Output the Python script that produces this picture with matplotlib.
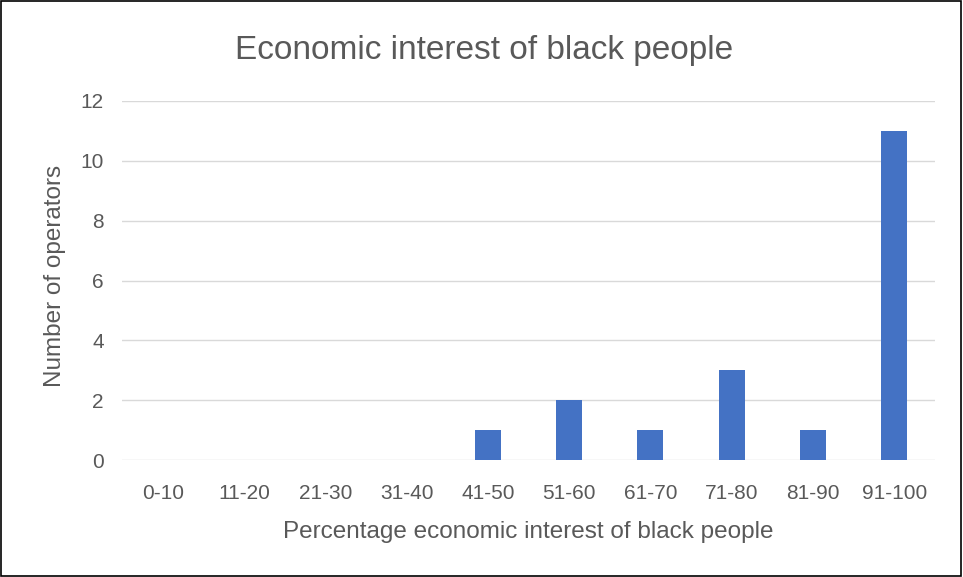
"""Recreate the Excel-style column chart of economic interest of black people."""

import matplotlib

matplotlib.use("Agg")
import matplotlib.pyplot as plt
from matplotlib.patches import Rectangle

CATEGORIES = ["0-10", "11-20", "21-30", "31-40", "41-50", "51-60", "61-70", "71-80", "81-90", "91-100"]
OPERATORS = [0, 0, 0, 0, 1, 2, 1, 3, 1, 11]
Y_TICKS = [0, 2, 4, 6, 8, 10, 12]

BAR_COLOR = "#4472C4"
GRID_COLOR = "#D9D9D9"
TEXT_COLOR = "#595959"

plt.rcParams["font.family"] = ["Liberation Sans", "DejaVu Sans"]

fig = plt.figure(figsize=(9.63, 5.77), dpi=100)
ax = fig.add_axes([122 / 963, 1 - 460 / 577, (935 - 122) / 963, (460 - 101) / 577])

positions = list(range(len(CATEGORIES)))
ax.bar(positions, OPERATORS, width=0.32, color=BAR_COLOR, zorder=3)

ax.set_xlim(-0.5, len(CATEGORIES) - 0.5)
ax.set_ylim(0, 12)
ax.set_yticks(Y_TICKS)
ax.set_xticks(positions)
ax.set_xticklabels(CATEGORIES)
ax.yaxis.grid(True, color=GRID_COLOR, linewidth=1.0, zorder=0)
ax.set_axisbelow(True)
for side in ("top", "right", "left", "bottom"):
    ax.spines[side].set_visible(False)
ax.tick_params(axis="both", length=0, labelsize=15, labelcolor=TEXT_COLOR)
ax.tick_params(axis="x", pad=17)
ax.tick_params(axis="y", pad=13)

fig.text(0.5 * (122 + 935) / 963, 1 - 532 / 577, "Percentage economic interest of black people",
         fontsize=17.5, color=TEXT_COLOR, ha="center", va="center")
fig.text(55 / 963, 1 - 276 / 577, "Number of operators", fontsize=17.5, color=TEXT_COLOR,
         ha="center", va="center", rotation=90)
fig.text(484 / 963, 1 - 51 / 577, "Economic interest of black people", fontsize=24,
         color=TEXT_COLOR, ha="center", va="center")

# thin black border round the whole chart area
fig.patches.append(Rectangle((0.001, 0.001), 0.997, 0.997, transform=fig.transFigure,
                             fill=False, edgecolor="black", linewidth=1.2))

fig.savefig("out.png", dpi=100)
